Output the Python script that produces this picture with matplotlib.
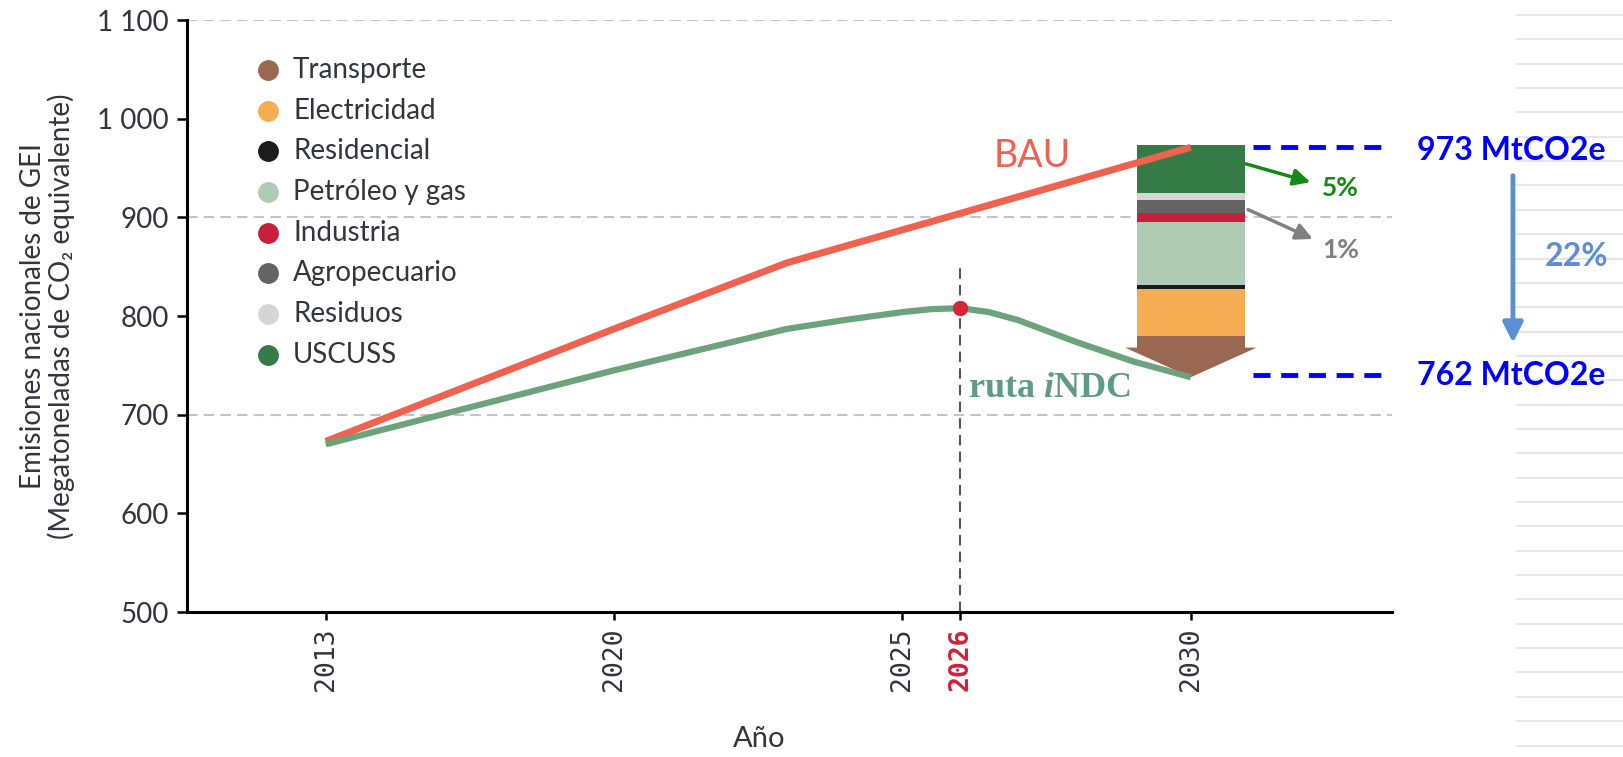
import numpy as np
import matplotlib.pyplot as plt
from matplotlib import transforms
from matplotlib.lines import Line2D
from matplotlib.patches import Polygon

# datos (MtCO2e)
bau_years = [2013, 2020, 2023, 2026, 2030]
bau_vals = [673, 787, 854, 904, 971]

ndc_years = [2013, 2020, 2023, 2024, 2025, 2025.5, 2026, 2026.5, 2027,
             2027.5, 2028, 2028.5, 2029, 2029.5, 2030]
ndc_vals = [670, 745, 787, 796, 804, 807, 808, 804, 796,
            785, 774, 764, 754, 746, 738]

sectors = ["Transporte", "Electricidad", "Residencial", "Petróleo y gas",
           "Industria", "Agropecuario", "Residuos", "USCUSS"]
sector_cut = [42, 47, 4, 64, 9, 14, 7, 48]
sector_colors = ["#9a6753", "#f5ac52", "#1c1c1c", "#b0cbb4",
                 "#c81f3c", "#646464", "#d5d5d5", "#357b46"]

tick_years = [2013, 2020, 2025, 2026, 2030]
y_ticks = [500, 600, 700, 800, 900, 1000, 1100]
grid_vals = [700, 900, 1100]
target_labels = [973, 762]
pct_labels = ["5%", "1%", "22%"]
year_peak = 2026
peak_line_top = 852

plt.rcParams["mathtext.fontset"] = "custom"
plt.rcParams["mathtext.it"] = "Liberation Serif:italic:bold"
plt.rcParams["mathtext.rm"] = "Liberation Serif:bold"

txt = "#34343f"
sans = ["Lato", "DejaVu Sans"]

fig = plt.figure(figsize=(16.23, 7.57), dpi=100)
ax = fig.add_axes([0.1152, 0.1915, 0.7425, 0.782])

# eje x no lineal: 2013, 2020, 2025, 2030 igualmente espaciados
kn_year = [1990, 2013, 2020, 2025, 2050]
kn_pos = [-23 / 7, 0, 1, 2, 7]


def fwd(v):
    return np.interp(v, kn_year, kn_pos)


def inv(p):
    return np.interp(p, kn_pos, kn_year)


ax.set_xscale("function", functions=(fwd, inv))
ax.set_xlim(2009.63, 2033.49)
ax.set_ylim(500, 1100)

for g in grid_vals:
    ax.axhline(g, color="#c4c4c4", lw=1.5, ls=(0, (5, 3)), zorder=0)

# barra apilada de reducciones en 2030
head = 30
base = ndc_vals[-1]
w = 1.87
bottom = base
for name, cut, col in zip(sectors, sector_cut, sector_colors):
    if name == "Transporte":
        ax.bar(2030, cut - head, width=w, bottom=bottom + head, color=col,
               linewidth=0, zorder=2)
        ax.add_patch(Polygon([(2030 - 1.14, bottom + head),
                              (2030 + 1.14, bottom + head),
                              (2030, bottom)], closed=True, color=col,
                             linewidth=0, zorder=2))
    else:
        ax.bar(2030, cut, width=w, bottom=bottom, color=col, linewidth=0,
               zorder=2)
    bottom += cut

ax.plot(bau_years, bau_vals, color="#f0614f", lw=5, solid_capstyle="butt",
        zorder=3)
ax.plot(ndc_years, ndc_vals, color="#6da37c", lw=4.5, solid_capstyle="butt",
        solid_joinstyle="round", zorder=3)

ax.vlines(year_peak, 500, peak_line_top, color="#555555", lw=1.5,
          ls=(0, (5, 3)), zorder=1)
ax.plot(year_peak, ndc_vals[ndc_years.index(year_peak)], "o",
        color="#d62532", ms=10, zorder=4)

ax.text(2026.58, 951, "BAU", color="#f0614f", fontsize=27, family=sans,
        va="baseline")
ax.text(2026.14, 718, r"ruta $\mathit{i}$NDC", color="#5f9c84", fontsize=26,
        family="Liberation Serif", weight="bold", va="baseline")

# leyenda
for i, (name, col) in enumerate(zip(sectors, sector_colors)):
    yy = 0.9155 - i * 0.0687
    ax.plot(0.0672, yy, "o", color=col, ms=14, transform=ax.transAxes,
            clip_on=False)
    ax.text(0.088, yy, name, color=txt, fontsize=20, family=sans,
            va="center", transform=ax.transAxes)

# ejes
for s in ["top", "right"]:
    ax.spines[s].set_visible(False)
for s in ["left", "bottom"]:
    ax.spines[s].set_linewidth(2.2)
ax.set_yticks(y_ticks)
ax.set_yticklabels([f"{v:,}".replace(",", " ") for v in y_ticks],
                   fontsize=20, family=sans, color=txt)
ax.tick_params(axis="y", length=7, width=1.8, pad=6)
ax.set_xticks(tick_years)
ax.set_xticklabels([str(y) for y in tick_years], rotation=90,
                   family="DejaVu Sans Mono", fontsize=19, color=txt)
ax.tick_params(axis="x", length=6, width=1.8, pad=5)
for lab in ax.get_xticklabels():
    if lab.get_text() == str(year_peak):
        lab.set_color("#d0213a")
        lab.set_fontweight("bold")
ax.minorticks_off()

ax.set_xlabel("Año", fontsize=21, family=sans, color=txt)
ax.xaxis.set_label_coords(0.475, -0.193)
ax.set_ylabel("Emisiones nacionales de GEI\n(Megatoneladas de CO₂ equivalente)",
              fontsize=20, family=sans, color=txt, linespacing=1.05)
ax.yaxis.set_label_coords(-0.093, 0.5)

# anotaciones de la derecha
for k in range(31):
    yf = 1 - (15 + 24.35 * k) / 757
    fig.add_artist(Line2D([0.9347, 1.0], [yf, yf], color="#e6e6e6", lw=1.5,
                          zorder=0))

ax.hlines([bau_vals[-1], ndc_vals[-1] + 2], 2031.08, 2033.32, color="#0000ff",
          lw=3.5, ls=(0, (3.5, 2.2)), zorder=3, clip_on=False)
tr = transforms.blended_transform_factory(fig.transFigure, ax.transData)
ax.text(0.873, 968, f"{target_labels[0]} MtCO2e", transform=tr, color="#0000ff",
        fontsize=23, weight="bold", family=sans, va="center")
ax.text(0.873, 740, f"{target_labels[1]} MtCO2e", transform=tr, color="#0000ff",
        fontsize=23, weight="bold", family=sans, va="center")
ax.annotate("", xy=(0.9322, 770), xycoords=tr, xytext=(0.9322, 945),
            textcoords=tr, arrowprops=dict(arrowstyle="-|>", color="#5b8ed6",
                                           lw=3.5, mutation_scale=30))
ax.text(0.952, 860, pct_labels[2], transform=tr, color="#5b8ed6", fontsize=23,
        weight="bold", family=sans, va="center")

ax.annotate("", xy=(2032.12, 935), xytext=(2030.91, 955),
            arrowprops=dict(arrowstyle="-|>", color="#138a13", lw=2.5,
                            mutation_scale=25), annotation_clip=False)
ax.text(2032.28, 930, pct_labels[0], color="#138a13", fontsize=19,
        weight="bold", family=sans, va="center")
ax.annotate("", xy=(2032.16, 877), xytext=(2030.95, 909),
            arrowprops=dict(arrowstyle="-|>", color="#808080", lw=2.5,
                            mutation_scale=25), annotation_clip=False)
ax.text(2032.28, 867, pct_labels[1], color="#808080", fontsize=19,
        weight="bold", family=sans, va="center")

fig.savefig("out.png", dpi=100)
